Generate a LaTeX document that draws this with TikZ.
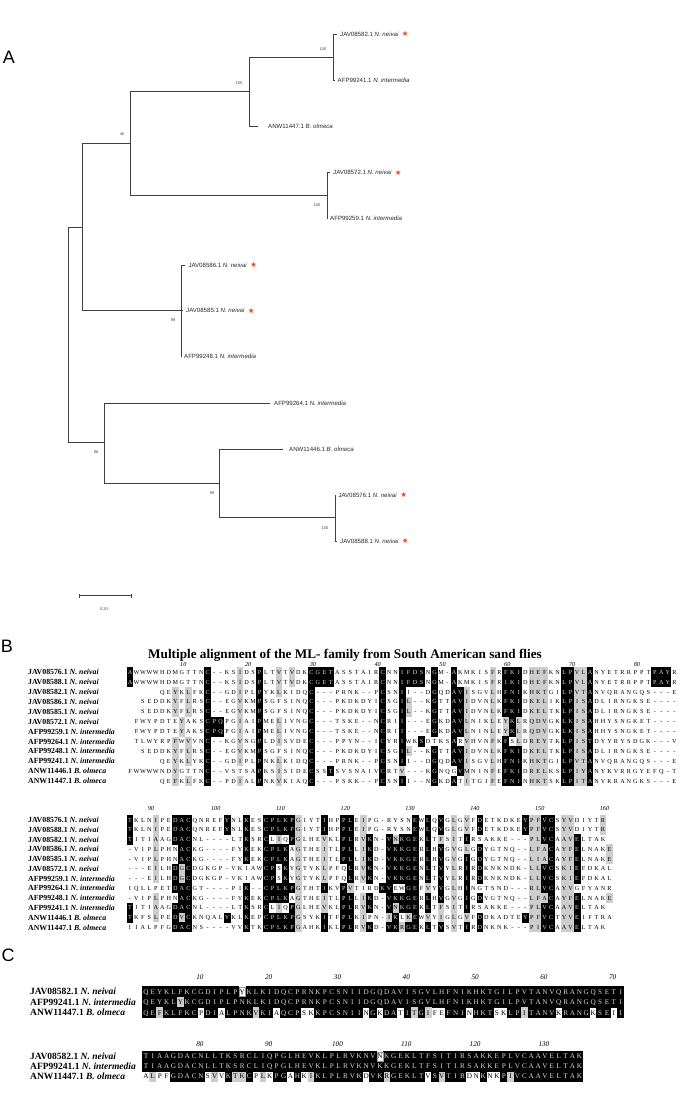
\documentclass[tikz,border=0pt]{standalone}
\usepackage{fontspec}
\setmainfont{Liberation Serif}
\setsansfont{Liberation Sans}
\newfontfamily\symfont{DejaVu Sans}
\usetikzlibrary{positioning}

\definecolor{starred}{HTML}{F0442A}
\definecolor{alngrey}{HTML}{CDCDCD}
\definecolor{invtext}{HTML}{D9D9D9}

\ExplSyntaxOn
\cs_new:Npn \rescharat #1#2 { \exp_args:No \str_item:nn {#1} {#2} }
\ExplSyntaxOff

\tikzset{
  branch/.style={draw=black!75, line width=0.9pt},
  leaf/.style={anchor=west, inner sep=0pt, font=\sffamily\fontsize{6.1}{7}\selectfont, text=black!85},
  boot/.style={inner sep=0pt, font=\sffamily\fontsize{4}{4.5}\selectfont, text=black!75},
  redstar/.style={inner sep=0pt, font=\symfont\fontsize{7.5}{8}\selectfont, text=starred},
  panel/.style={inner sep=0pt, font=\sffamily\fontsize{18}{18}\selectfont},
  seqname/.style={anchor=west, inner sep=0pt, font=\bfseries\fontsize{7.8}{9}\selectfont},
  cname/.style={anchor=west, inner sep=0pt, font=\bfseries\fontsize{9.5}{11}\selectfont},
  res/.style={anchor=base, yshift=-\alnlift, inner sep=0pt, font=\alnfont},
  ruler/.style={inner sep=0pt, font=\itshape\alnfont},
}

% one alignment row: first column x, row y, residues, black runs, grey runs, length, name
\newcommand{\alnrow}[7]{%
  \if\relax\detokenize{#5}\relax\else
  \foreach \ga/\gb in {#5}{%
    \fill[alngrey] ({#1+(\ga-1.5)*\alnp},{#2-\alnh/2}) rectangle ({#1+(\gb-0.5)*\alnp},{#2+\alnh/2});}
  \fi
  \foreach \ba/\bb in {#4}{%
    \fill[black] ({#1+(\ba-1.5)*\alnp-0.15},{#2-\alnh/2-0.15}) rectangle ({#1+(\bb-0.5)*\alnp+0.15},{#2+\alnh/2+0.15});}
  \foreach \i in {1,...,#6}{%
    \edef\rc{\rescharat{#3}{\i}}%
    \gdef\cellcol{black}%
    \foreach \ba/\bb in {#4}{\ifnum\i<\ba\relax\else\ifnum\i>\bb\relax\else\gdef\cellcol{invtext}\fi\fi}%
    \if.\rc\else\node[res, text=\cellcol] (#7-\i) at ({#1+(\i-1)*\alnp},{#2}) {\rc};\fi}
}
\newcommand{\alnbox}[3]{%
  \draw[black!40, line width=0.4pt] ({#1+(#3-1.5)*\alnp+0.4},{#2-\alnh/2+0.4}) rectangle ({#1+(#3-0.5)*\alnp-0.4},{#2+\alnh/2-0.4});}

\begin{document}
\begin{tikzpicture}[x=1pt,y=-1pt]
\useasboundingbox (0,0) rectangle (685,1102);

% A: tree
\node[panel] (pa) at (9,57) {A};

\coordinate (root) at (68,334.7);
\coordinate (n82) at (82,227);
\coordinate (n130) at (130,143.3);
\coordinate (n249) at (249,91.7);
\coordinate (n333) at (333,57.3);
\coordinate (n327) at (327,195.7);
\coordinate (n181) at (181,310.7);
\coordinate (n104) at (104,442.3);
\coordinate (n219) at (219,483.3);
\coordinate (n335) at (335,517.7);

\node[leaf] (l82) at (340,34.3) {JAV08582.1 \textit{N. neivai}};
\node[leaf] (l41) at (337.5,80) {AFP99241.1 \textit{N. intermedia}};
\node[leaf] (l47) at (268,126) {ANW11447.1 \textit{B. olmeca}};
\node[leaf] (l72) at (333,172.7) {JAV08572.1 \textit{N. neivai}};
\node[leaf] (l59) at (330,218.3) {AFP99259.1 \textit{N. intermedia}};
\node[leaf] (l86) at (188.3,265) {JAV08586.1 \textit{N. neivai}};
\node[leaf] (l85) at (186,310.7) {JAV08585.1 \textit{N. neivai}};
\node[leaf] (l48) at (184,356.7) {AFP99248.1 \textit{N. intermedia}};
\node[leaf] (l64) at (274,403.3) {AFP99264.1 \textit{N. intermedia}};
\node[leaf] (l46) at (289,449) {ANW11446.1 \textit{B. olmeca}};
\node[leaf] (l76) at (338.3,495) {JAV08576.1 \textit{N. neivai}};
\node[leaf] (l88) at (340,541) {JAV08588.1 \textit{N. neivai}};

\foreach \lf in {l82,l72,l86,l85,l76,l88}
  \node[redstar, right=3pt of \lf] (s-\lf) {★};

\draw[branch] (root) |- (n82);
\draw[branch] (root) |- (n104);
\draw[branch] (n82) |- (n130);
\draw[branch] (n82) |- (n181);
\draw[branch] (n130) |- (n249);
\draw[branch] (n130) |- (n327);
\draw[branch] (n249) |- (n333);
\draw[branch] (n249) |- ([xshift=-10pt]l47.west);
\draw[branch] (n333) |- ([xshift=-3pt]l82.west);
\draw[branch] (n333) |- ([xshift=-3pt]l41.west);
\draw[branch] (n327) |- ([xshift=-3pt]l72.west);
\draw[branch] (n327) |- ([xshift=-2pt]l59.west);
\draw[branch] (n181) |- ([xshift=-3pt]l86.west);
\draw[branch] (n181) |- ([xshift=-3pt]l85.west);
\draw[branch] (n181) |- ([xshift=-3pt]l48.west);
\draw[branch] (n104) |- ([xshift=-4pt]l64.west);
\draw[branch] (n104) |- (n219);
\draw[branch] (n219) |- ([xshift=-6pt]l46.west);
\draw[branch] (n219) |- (n335);
\draw[branch] (n335) |- ([xshift=-3pt]l76.west);
\draw[branch] (n335) |- ([xshift=-3pt]l88.west);

\node[boot] (bs333) at (323,49) {100};
\node[boot] (bs249) at (239,83) {100};
\node[boot] (bs130) at (122,134) {46};
\node[boot] (bs327) at (317,205) {100};
\node[boot] (bs181) at (173,320) {99};
\node[boot] (bs104) at (96,452) {86};
\node[boot] (bs219) at (212,493) {99};
\node[boot] (bs335) at (325,528) {100};

\coordinate (sb0) at (79.5,595.7);
\coordinate (sb1) at (131,595.7);
\draw[branch, line width=0.6pt] (sb0) -- (sb1);
\draw[branch, line width=0.6pt] ([yshift=-2pt]sb0) -- ([yshift=2pt]sb0);
\draw[branch, line width=0.6pt] ([yshift=-2pt]sb1) -- ([yshift=2pt]sb1);
\node[boot] (sbl) at (104,609.5) {0.20};

% B: alignment of the twelve sequences
\node[panel] (pb) at (7,646) {B};
\node[inner sep=0pt, font=\bfseries\fontsize{13.2}{14}\selectfont] (ttl) at (345,655)
  {Multiple alignment of the ML- family from South American sand flies};

\foreach \nm [count=\r] in {JAV08576.1 \textit{N. neivai},JAV08588.1 \textit{N. neivai},
  JAV08582.1 \textit{N. neivai},JAV08586.1 \textit{N. neivai},JAV08585.1 \textit{N. neivai},
  JAV08572.1 \textit{N. neivai},AFP99259.1 \textit{N. intermedia},AFP99264.1 \textit{N. intermedia},
  AFP99248.1 \textit{N. intermedia},AFP99241.1 \textit{N. intermedia},ANW11446.1 \textit{B. olmeca},
  ANW11447.1 \textit{B. olmeca}}{
  \node[seqname] (nb1-\r) at (28,{672.3+(\r-1)*9.88}) {\nm};
  \node[seqname] (nb2-\r) at (28,{820+(\r-1)*9.76}) {\nm};
}

\def\alnp{6.48}\def\alnh{9.88}\def\alnfont{\fontsize{6.2}{7}\selectfont}\def\alnlift{2.05pt}
\foreach \c in {10,20,...,80}
  \node[ruler] (rb1-\c) at ({130+(\c-1)*\alnp-5},664) {\c};
\alnrow{130}{672.3+9.88*0}{AWWWWHDMGTTNC--KSIDSPLTVTVDKCGETASSTAIRCNNIFDSNGM-AKMKISFRFKIDHEFKNLPVLANYETRRPPTPAYR}{1/1,13/13,21/21,29/32,40/40,43/46,48/48,51/51,59/61,68/69,72/72,82/84}{18/18,24/24,26/26,57/57,63/65,70/71}{85}{a1}
\alnrow{130}{672.3+9.88*1}{AWWWWHDMGTTNC--KSIDSPLTVTVDKCGETASSTAIRCNNIFDSNGM-AKMKISFRIKIDHEFKNLPVLANYETRRPPTPAYR}{1/1,13/13,21/21,29/32,40/40,43/46,48/48,51/51,59/61,68/69,72/72,82/84}{18/18,24/24,26/26,57/57,63/65,70/71}{85}{a2}
\alnrow{130}{672.3+9.88*2}{.....QEYKLFKC--GDIPLPYKLKIDQC---PRNK--PCSNII--DGQDAVISGVLHFNIKHKTGILPVTANVQRANGQS---E}{13/13,21/21,29/29,40/40,43/43,48/48,51/52,59/61,68/69,72/72}{8/8,10/10,18/18,24/24,53/53,57/57,63/65,70/71}{85}{a3}
\alnrow{130}{672.3+9.88*3}{..SEDDKYFLRSC--EGVKMPSGFSINQC---PKDKDYICSGIL--KGTTAVIDVNLKFKIDKELIKLPISADLIRNGKSE----}{13/13,21/21,29/29,40/40,43/43,48/48,51/52,59/61,68/69,72/72}{8/8,10/10,18/18,44/44,53/53,57/57,63/65,70/71}{85}{a4}
\alnrow{130}{672.3+9.88*4}{..SEDDKYFLRSC--EGVKMPSGFSINQC---PKDKDYICSGIL--KGTTAVIDVNLKFKIDKELTKLPISADLIRNGKSE----}{13/13,21/21,29/29,40/40,43/43,48/48,51/52,59/61,68/69,72/72}{8/8,10/10,18/18,44/44,53/53,57/57,63/65,70/71}{85}{a5}
\alnrow{130}{672.3+9.88*5}{.FWYPDTEYAKSCPQPGIAIPMELIVNGC---TSKE--NCRII---EGKDAVLNIKLEYKLRQDVGKLKISAHHYSNGKET----}{13/15,21/21,29/29,40/40,43/43,48/48,51/52,60/60,68/69,72/72}{9/9,18/18,24/24,53/53,57/57,59/59,61/61,63/65,70/71}{85}{a6}
\alnrow{130}{672.3+9.88*6}{.FWYPDTEYAKSCPQPGIAIPMELIVNGC---TSKE--NCRII---EGKDAVLNINLEYKLRQDVGKLKISAHHYSNGKET----}{13/15,21/21,29/29,40/40,43/43,48/48,51/52,60/60,68/69,72/72}{9/9,18/18,24/24,53/53,57/57,59/59,61/61,63/65,70/71}{85}{a7}
\alnrow{130}{672.3+9.88*7}{.TLWYRPFWVVNC--KGVNGPLDISVDEC---PPYN--ICYRIWKSDTKSARVHVNFKFSLDREYTKLPISTDYYRYSDGK---V}{13/13,21/21,29/29,40/40,43/43,46/46,51/51,59/59,68/69,72/72}{8/8,10/10,18/18,24/24,53/53,57/57,61/61,63/65,70/71}{85}{a8}
\alnrow{130}{672.3+9.88*8}{..SEDDKYFLRSC--EGVKMPSGFSINQC---PKDKDYICSGIL--KGTTAVIDVNLKFKIDKELTKLPISADLIRNGKSE----}{13/13,21/21,29/29,40/40,43/43,48/48,51/52,59/61,68/69,72/72}{8/8,10/10,18/18,44/44,53/53,57/57,63/65,70/71}{85}{a9}
\alnrow{130}{672.3+9.88*9}{.....QEYKLYKC--GDIPLPNKLKIDQC---PRNK--PCSNII--DGQDAVISGVLHFNIKHKTGILPVTANVQRANGQS---E}{13/13,21/21,29/29,40/40,43/43,48/48,51/52,59/61,68/69,72/72}{8/8,10/10,18/18,24/24,53/53,57/57,63/65,70/71}{85}{a10}
\alnrow{130}{672.3+9.88*10}{FWWWWNDYGTTNC--VSTSAPKSISIDECSSTSVSNAIVCRTV---KGNQGVMNINFEFKIDRELKSLPIYANYKVRRGYEFQ-T}{13/13,21/21,29/29,32/32,40/40,48/48,52/52,59/61,68/69,72/72}{8/8,24/24,43/43,53/53,57/57,63/65,70/71}{85}{a11}
\alnrow{130}{672.3+9.88*11}{.....QEFKLFKC--PDIALPNKVKIAQC---PSKK--PCSNII--NGKDATITGIFEFNINHKTSKLPITANVKRANGKS---E}{13/13,21/21,29/29,40/40,43/43,48/48,51/51,59/61,68/69,72/72}{8/8,10/10,18/18,24/24,53/53,57/57,63/65,70/71}{85}{a12}

\def\alnh{9.76}
\foreach \c in {90,100,...,160}
  \node[ruler] (rb2-\c) at ({130+(\c-86)*\alnp-5},808) {\c};
\alnrow{130}{820+9.76*0}{TKLNIPEDACQNREFYNLKESCPLKPGIYTIHPPLEIPG-RYSNEWLQVGLGVFDETKDKEYPFVCSYVDIYTR.}{1/1,8/10,16/16,19/19,22/26,31/31,34/35,45/45,47/47,49/49,55/55,62/62,65/66}{5/5,27/27,37/37,51/51,53/53,63/64,68/69,74/74}{75}{b1}
\alnrow{130}{820+9.76*1}{TKLNIPEDACQNREFYNLKESCPLKPGIYTIHPPLEIPG-RYSNEWLQVGLGVFDETKDKEYPFVCSYVDIYTR.}{1/1,8/10,16/16,19/19,22/26,31/31,34/35,45/45,47/47,49/49,55/55,62/62,65/66}{5/5,27/27,37/37,51/51,53/53,63/64,68/69,74/74}{75}{b2}
\alnrow{130}{820+9.76*2}{TITIAAGDACNL----LTKSRCLIQPGLHEVKLPLRVKN-VNKGEKLTFSITIRSAKKE---PLVCAAVELTAK.}{1/1,8/10,19/19,22/22,26/26,34/35,38/38,41/41,43/45,47/47,53/53,65/66,70/70}{5/5,24/24,27/27,31/31,37/37,42/42,49/49,51/51,63/64,68/69}{75}{b3}
\alnrow{130}{820+9.76*3}{-VIPLPHNACKG----FYKEKCPLKAGTHEITLPLLIKD-VKKGERLHVGVGLGDYGTNQ--LFACAYFELNAKE}{9/10,19/19,22/25,34/35,38/38,41/45,47/47,49/49,55/55,66/66,70/70}{5/5,27/27,31/31,37/37,51/51,53/53,63/65,68/69,75/75}{75}{b4}
\alnrow{130}{820+9.76*4}{-VIPLPHNACKG----FYKEKCPLKAGTHEITLPLLIKD-VKKGERLHVGVGIGDYGTNQ--LIACAYFELNAKE}{9/10,19/19,22/25,34/35,38/38,41/45,47/47,49/49,53/53,55/55,66/66,70/70}{5/5,27/27,31/31,37/37,51/51,63/65,68/69,75/75}{75}{b5}
\alnrow{130}{820+9.76*5}{---EILHDGCDGKGP-VKIAWCPSKYGTYKLPFQLRVKN-VKKGENLTVYLRIRDKNKNDK-LLVCSKIEFDKAL}{8/8,10/10,22/23,25/25,35/35,38/38,41/45,47/47,49/49,53/53,55/55,65/66,70/70}{5/5,9/9,27/27,31/31,37/37,51/51,63/64,68/69}{75}{b6}
\alnrow{130}{820+9.76*6}{---EILHDGCDGKGP-VKIAWCPSKYGTYKLPFQLRVKN-VKKGENLTVYLRIRDKNKNDK-LLVCSKIEFDKAL}{8/8,10/10,22/23,25/25,35/35,38/38,41/45,47/47,49/49,53/53,55/55,65/66,70/70}{5/5,9/9,27/27,31/31,37/37,51/51,63/64,68/69}{75}{b7}
\alnrow{130}{820+9.76*7}{IQLLPETDACGT----PIK--CPLKPGTHTIKVPVTIRDKVEWGEFVYVGLHINGTSND---RLVCAYVGFYANR}{8/10,19/19,22/26,31/31,34/34,40/41,44/45,49/49,53/53,65/66}{27/27,35/35,47/47,51/51,63/64,68/69}{75}{b8}
\alnrow{130}{820+9.76*8}{-VIPLPHNACKG----FYKEKCPLKAGTHEITLPLLIKD-VKKGERLHVGVGIGDYGTNQ--LFACAYFELNAKE}{9/10,19/19,22/25,34/35,38/38,41/45,47/47,49/49,53/53,55/55,66/66,70/70}{5/5,27/27,31/31,37/37,51/51,63/65,68/69,75/75}{75}{b9}
\alnrow{130}{820+9.76*9}{TITIAAGDACNL----LTKSRCLIQPGLHEVKLPLRVKN-VNKGEKLTFSITIRSAKKE---PLVCAAVELTAK.}{1/1,8/10,19/19,22/22,26/26,34/35,38/38,41/41,43/45,47/47,53/53,65/66,70/70}{5/5,24/24,27/27,31/31,37/37,42/42,49/49,51/51,63/64,68/69}{75}{b10}
\alnrow{130}{820+9.76*10}{TKFSLPEDVCKNQALYKLKEPCPLKPGSYKITFPLKIPN-IKLKEWVYIGLGVFDDKADTEYPFVCTYVEIFTRA}{1/1,8/8,10/10,16/16,19/19,22/26,31/31,34/35,42/42,45/45,55/55,62/62,65/66,70/70}{5/5,9/9,27/27,37/37,41/41,44/44,47/47,49/49,51/51,53/53,63/64,68/69}{75}{b11}
\alnrow{130}{820+9.76*11}{IIALPFGDACNS----VVKTKCPLKPGAHKIKLPLRVKD-VKRGEKLTVSVTIRDNKNK---PIVCAAVELTAK.}{8/10,19/19,22/26,31/31,34/35,38/38,41/42,44/45,47/47,49/49,53/53,55/55,65/66,70/70}{27/27,37/37,43/43,51/51,63/64,68/69}{75}{b12}

% C: alignment of the three sequences
\node[panel] (pc) at (8,955) {C};
\foreach \nm [count=\r] in {JAV08582.1 \textit{N. neivai},AFP99241.1 \textit{N. intermedia},ANW11447.1 \textit{B. olmeca}}{
  \node[cname] (nc1-\r) at (30,{991.7+(\r-1)*10.5}) {\nm};
  \node[cname] (nc2-\r) at (30,{1056.5+(\r-1)*10}) {\nm};
}

\def\alnp{6.88}\def\alnh{10.5}\def\alnfont{\fontsize{7.2}{8}\selectfont}\def\alnlift{2.4pt}
\foreach \c in {10,20,...,70}
  \node[ruler] (rc1-\c) at ({146+(\c-1)*\alnp-8},977) {\c};
\alnrow{146}{991.7+10.5*0}{QEYKLFKCGDIPLPYKLKIDQCPRNKPCSNIIDGQDAVISGVLHFNIKHKTGILPVTANVQRANGQSETI}{1/14,16/70}{}{70}{c1}
\alnrow{146}{991.7+10.5*1}{QEYKLYKCGDIPLPNKLKIDQCPRNKPCSNIIDGQDAVISGVLHFNIKHKTGILPVTANVQRANGQSETI}{1/5,7/70}{6/6}{70}{c2}
\alnrow{146}{991.7+10.5*2}{QEFKLFKCPDIALPNKVKIAQCPSKKPCSNIINGKDATITGIFEFNINHKTSKLPITANVKRANGKSEII}{1/2,4/8,10/11,13/16,18/19,21/23,26/32,34/34,36/37,39/39,41/41,45/47,49/51,54/55,57/60,62/65,67/68,70/70}{3/3,17/17,40/40,42/42,56/56}{70}{c3}
\alnbox{146}{991.7}{15}

\def\alnh{10}
\foreach \c in {80,90,...,130}
  \node[ruler] (rc2-\c) at ({146+(\c-71)*\alnp-8},1044) {\c};
\alnrow{146}{1056.5+10*0}{TIAAGDACNLLTKSRCLIQPGLHEVKLPLRVKNVNKGEKLTFSITIRSAKKEPLVCAAVELTAK}{1/34,36/64}{}{64}{d1}
\alnrow{146}{1056.5+10*1}{TIAAGDACNLLTKSRCLIQPGLHEVKLPLRVKNVKKGEKLTFSITIRSAKKEPLVCAAVELTAK}{1/64}{}{64}{d2}
\alnrow{146}{1056.5+10*2}{ALPFGDACNSVVKTKCPLKPGAHKIKLPLRVKDVKRGEKLTVSVTIRDNKNKPIVCAAVELTAK}{5/9,13/13,16/16,20/21,23/23,26/32,34/35,37/41,43/43,45/47,50/50,53/53,55/64}{2/2,11/11,14/15,18/18,25/25,36/36,44/44,54/54}{64}{d3}
\alnbox{146}{1056.5}{35}

\end{tikzpicture}
\end{document}
